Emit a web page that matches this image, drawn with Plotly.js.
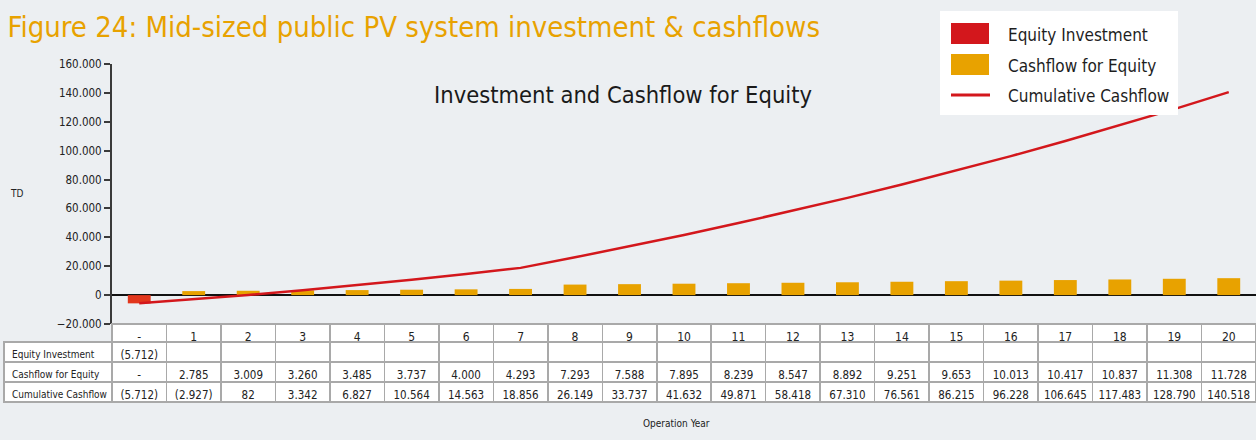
<!DOCTYPE html>
<html>
<head>
<meta charset="utf-8">
<script src="https://cdn.plot.ly/plotly-3.0.1.min.js"></script>
<style>
  html, body { margin:0; padding:0; background:#ECEFF2; }
  #grafica { width:1256px; height:440px; }
</style>
</head>
<body>
<div id="grafica"></div>
<script>

// =========================
// DATOS
// =========================

let anos = ["-", "1", "2", "3", "4", "5", "6", "7", "8", "9", "10",
            "11", "12", "13", "14", "15", "16", "17", "18", "19", "20"];

let inversion = [-5712, null, null, null, null, null, null, null, null, null, null,
                 null, null, null, null, null, null, null, null, null, null];

let flujo = [0, 2785, 3009, 3260, 3485, 3737, 4000, 4293, 7293, 7588, 7895,
             8239, 8547, 8892, 9251, 9653, 10013, 10417, 10837, 11308, 11728];

let acumulado = [-5712, -2927, 82, 3342, 6827, 10564, 14563, 18856, 26149, 33737, 41632,
                 49871, 58418, 67310, 76561, 86215, 96228, 106645, 117483, 128790, 140518];

let filas = ["Equity Investment", "Cashflow for Equity", "Cumulative Cashflow"];

const fondo = "#ECEFF2";
const rojo = "#D3171C";
const rojoBarra = "#E2361C";
const naranja = "#E8A200";
const transparente = "rgba(0,0,0,0)";
const cond = "DejaVu Sans Condensed, DejaVu Sans, sans-serif";

function formato(v){
    if(v === null) return "";
    if(v === 0) return "-";
    let s = String(Math.abs(v)).replace(/\B(?=(\d{3})+(?!\d))/g, ".");
    return v < 0 ? "(" + s + ")" : s;
}

// =========================
// TABLA
// =========================

// espacios duros para que la etiqueta no se parta en dos lineas
let columnas = [filas.map(f => f.replace(/ /g, "\u00A0"))];
for(let i=0; i<anos.length; i++){
    columnas.push([
        formato(inversion[i]),
        i === 0 ? "-" : formato(flujo[i]),
        formato(acumulado[i])
    ]);
}

let colorCabecera = [transparente];
let lineaCabecera = [transparente];
let alineado = ["left"];
let tamanos = [10];
let anchoCol = [108];
for(let i=0; i<anos.length; i++){
    colorCabecera.push("white");
    lineaCabecera.push("#A9A9A9");
    alineado.push("center");
    tamanos.push(11.5);
    anchoCol.push(54.48);
}

// =========================
// TRAZAS
// =========================

let datos = [

    {
        type:'bar',
        name:'Equity Investment',
        x:anos,
        y:inversion,
        width:0.42,
        marker:{color:rojoBarra},
        xaxis:'x', yaxis:'y'
    },

    {
        type:'bar',
        name:'Cashflow for Equity',
        x:anos,
        y:flujo,
        width:0.42,
        marker:{color:naranja},
        xaxis:'x', yaxis:'y'
    },

    {
        type:'scatter',
        mode:'lines',
        name:'Cumulative Cashflow',
        x:anos,
        y:acumulado,
        line:{color:rojo, width:2.5},
        xaxis:'x', yaxis:'y'
    },

    {
        type:'table',
        domain:{x:[4/1256, 1], y:[1-404/440, 1-324/440]},
        columnwidth:anchoCol,
        header:{
            values:[""].concat(anos),
            height:18,
            align:"center",
            fill:{color:colorCabecera},
            line:{color:lineaCabecera, width:1.5},
            font:{family:cond, size:12, color:"#222"}
        },
        cells:{
            values:columnas,
            height:20,
            align:alineado,
            fill:{color:"white"},
            line:{color:"#A9A9A9", width:1.5},
            font:{family:cond, size:tamanos, color:"#222"}
        }
    }

];

// =========================
// LEYENDA MANUAL
// =========================

let formas = [
    {type:'rect', xref:'paper', yref:'paper',
     x0:940/1256, x1:1178/1256, y0:1-115/440, y1:1-11/440,
     fillcolor:'white', line:{width:0}},
    {type:'rect', xref:'paper', yref:'paper',
     x0:951/1256, x1:989/1256, y0:1-44/440, y1:1-23/440,
     fillcolor:rojo, line:{width:0}},
    {type:'rect', xref:'paper', yref:'paper',
     x0:951/1256, x1:989/1256, y0:1-75/440, y1:1-54/440,
     fillcolor:naranja, line:{width:0}},
    {type:'line', xref:'paper', yref:'paper',
     x0:951/1256, x1:990/1256, y0:1-95/440, y1:1-95/440,
     line:{color:rojo, width:3}}
];

let notas = [
    {text:'Equity Investment', x:1006/1256, y:1-35/440},
    {text:'Cashflow for Equity', x:1006/1256, y:1-66/440},
    {text:'Cumulative Cashflow', x:1006/1256, y:1-96/440}
].map(n => ({
    text:n.text, x:n.x, y:n.y, xref:'paper', yref:'paper',
    xanchor:'left', yanchor:'middle', showarrow:false,
    font:{family:cond, size:17, color:'#1e1e1e'}
}));

notas.push({
    text:'Investment and Cashflow for Equity',
    x:623/1256, y:1-95/440, xref:'paper', yref:'paper',
    xanchor:'center', yanchor:'middle', showarrow:false,
    font:{family:cond, size:23.5, color:'#1a1a1a'}
});

notas.push({
    text:'TD', x:8/1256, y:1-193/440, xref:'paper', yref:'paper',
    xanchor:'left', yanchor:'middle', showarrow:false,
    font:{family:cond, size:10, color:'#222'}
});

notas.push({
    text:'Operation Year', x:676/1256, y:1-423/440, xref:'paper', yref:'paper',
    xanchor:'center', yanchor:'middle', showarrow:false,
    font:{family:cond, size:10, color:'#222'}
});

// =========================
// LAYOUT
// =========================

let layout = {
    width:1256,
    height:440,
    margin:{l:0, r:0, t:0, b:0},
    paper_bgcolor:fondo,
    plot_bgcolor:fondo,
    separators:',.',
    showlegend:false,
    barmode:'overlay',
    title:{
        text:'Figure 24: Mid-sized public PV system investment & cashflows',
        x:0.006, xanchor:'left', y:1-27/440, yanchor:'middle',
        font:{family:cond, size:29, color:naranja}
    },
    xaxis:{
        domain:[112/1256, 1],
        type:'category',
        range:[-0.5, 20.5],
        showticklabels:false,
        ticks:'',
        showgrid:false,
        showline:false,
        zeroline:false
    },
    yaxis:{
        domain:[1-324/440, 1-64/440],
        range:[-20000, 160000],
        dtick:20000,
        tickformat:',d',
        ticks:'outside',
        ticklen:6,
        tickwidth:1.5,
        tickcolor:'#3a3a3a',
        showline:true,
        linecolor:'#3a3a3a',
        linewidth:2,
        showgrid:false,
        zeroline:true,
        zerolinecolor:'#111',
        zerolinewidth:1.5,
        tickfont:{family:cond, size:11.5, color:'#222'}
    },
    shapes:formas,
    annotations:notas
};

Plotly.newPlot('grafica', datos, layout, {displayModeBar:false});

</script>
</body>
</html>
